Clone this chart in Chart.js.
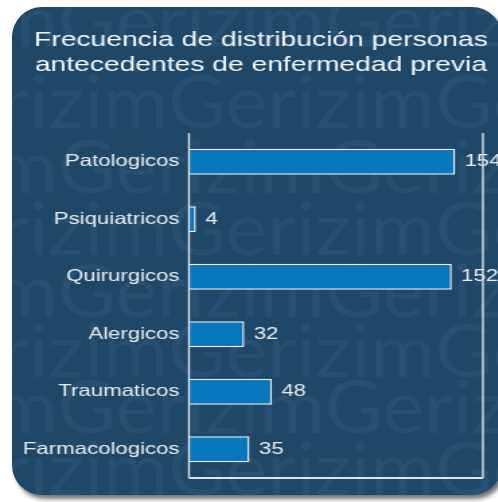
<!DOCTYPE html>
<html>
<head>
<meta charset="utf-8">
<script src="https://cdn.jsdelivr.net/npm/chart.js@4/dist/chart.umd.min.js"></script>
<style>
  html, body { margin: 0; padding: 0; background: #ffffff; }
  body { width: 498px; height: 502px; position: relative; overflow: hidden; }
  #card {
    position: absolute; left: 12px; top: 7px; width: 490px; height: 488px;
    background: #1f4767; border-radius: 30px; overflow: hidden;
    box-shadow: 3px 4px 4px rgba(0, 0, 0, 0.55);
  }
  #chart {
    position: absolute; left: -12px; top: -7px;
    transform: scaleX(1.345); transform-origin: 0 0;
  }
</style>
</head>
<body>
<div id="card"><canvas id="chart" width="370" height="502"></canvas></div>
<script>
document.addEventListener("DOMContentLoaded", function () {
    const titleLines = ["Frecuencia de distribución personas", "antecedentes de enfermedad previa"];
    const categories = ["Patologicos", "Psiquiatricos", "Quirurgicos", "Alergicos", "Traumaticos", "Farmacologicos"];
    const values = [154, 4, 152, 32, 48, 35];
    const axisMax = 170;

    Chart.defaults.font.family = "'Liberation Sans', Arial, sans-serif";

    // faint repeated brand text behind the chart
    const watermark = {
        id: "watermark",
        beforeDraw(chart) {
            const ctx = chart.ctx;
            const word = "Gerizim";
            const period = 198.5;
            const rows = [47, 128, 193, 255, 317, 377, 433, 495];
            ctx.save();
            ctx.font = "74px Lato, 'DejaVu Sans', sans-serif";
            ctx.fillStyle = "rgba(140, 190, 230, 0.085)";
            const f = period / ctx.measureText(word).width;
            ctx.scale(f, 1);
            rows.forEach(function (y, i) {
                let x = (i % 2 ? 125 : 43) - period;
                while (x < chart.width) {
                    ctx.fillText(word, x / f, y);
                    x += period;
                }
            });
            ctx.restore();
        }
    };

    // title sits centred on the card, a bit right of the canvas middle
    const titleShift = {
        id: "titleShift",
        afterLayout(chart) {
            chart.titleBlock.left += 14.5;
            chart.titleBlock.right += 14.5;
        }
    };

    // value labels right of each bar
    const valueLabels = {
        id: "valueLabels",
        afterDatasetsDraw(chart) {
            const ctx = chart.ctx;
            const meta = chart.getDatasetMeta(0);
            ctx.save();
            ctx.font = "16.5px 'Liberation Sans', Arial, sans-serif";
            ctx.fillStyle = "#ececec";
            ctx.textBaseline = "middle";
            ctx.textAlign = "left";
            meta.data.forEach(function (bar, i) {
                ctx.fillText(String(values[i]), bar.x + 7, bar.y);
            });
            ctx.restore();
        }
    };

    // white frame: left, bottom and right edges of the plot
    const frame = {
        id: "frame",
        afterDraw(chart) {
            const a = chart.chartArea;
            const ctx = chart.ctx;
            ctx.save();
            ctx.strokeStyle = "#dbe3ea";
            ctx.lineWidth = 1.4;
            ctx.beginPath();
            ctx.moveTo(a.left, a.top);
            ctx.lineTo(a.left, a.bottom);
            ctx.moveTo(a.right, a.top);
            ctx.lineTo(a.right, a.bottom);
            ctx.stroke();
            ctx.lineWidth = 2;
            ctx.beginPath();
            ctx.moveTo(a.left, a.bottom);
            ctx.lineTo(a.right, a.bottom);
            ctx.stroke();
            ctx.restore();
        }
    };

    const ctx = document.getElementById("chart").getContext("2d");
    new Chart(ctx, {
        type: "bar",
        data: {
            labels: categories,
            datasets: [{
                data: values,
                backgroundColor: "#0878be",
                borderColor: "#e8eef3",
                borderWidth: 1.5,
                barPercentage: 0.45,
                categoryPercentage: 1
            }]
        },
        options: {
            indexAxis: "y",
            responsive: false,
            animation: false,
            devicePixelRatio: 1,
            layout: { padding: { left: 0, right: 11, top: 0, bottom: 24 } },
            plugins: {
                legend: { display: false },
                tooltip: { enabled: false },
                title: {
                    display: true,
                    text: titleLines,
                    color: "#f6f6f6",
                    font: { size: 21, weight: "normal", lineHeight: 1.19 },
                    padding: { top: 28, bottom: 55 }
                }
            },
            scales: {
                x: { display: false, min: 0, max: axisMax },
                y: {
                    grid: { display: false, drawTicks: false },
                    border: { display: false },
                    ticks: { color: "#ececec", font: { size: 16.5 }, padding: 7 },
                    afterFit: function (scale) { scale.width = 140.5; }
                }
            }
        },
        plugins: [watermark, titleShift, valueLabels, frame]
    });
});
</script>
</body>
</html>
